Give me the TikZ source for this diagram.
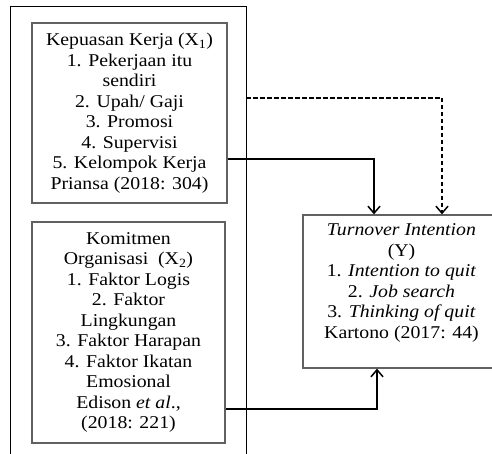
\documentclass[tikz,border=0pt]{standalone}
\usepackage{fontspec}
\setmainfont{Liberation Serif}[FakeStretch=1.1]
\usetikzlibrary{arrows.meta}
\tikzset{
  boxnode/.style={draw=black!62, line width=1.3pt, inner sep=0pt, align=center,
    font=\fontsize{18}{20.5}\selectfont},
  frameline/.style={draw=black, line width=1pt},
  conn/.style={draw=black, line width=1.5pt, -{Straight Barb[length=7pt,width=12pt,line width=1.5pt]}},
  dconn/.style={conn, dash pattern=on 4.5pt off 2.5pt}
}
\begin{document}
\begin{tikzpicture}[x=1pt,y=-1pt]
\clip (0,0) rectangle (492,454);
\fill[white] (0,0) rectangle (492,454);
% outer frame (open at bottom)
\coordinate (fl) at (10,460);
\coordinate (ftl) at (10,7);
\coordinate (ftr) at (246,7);
\coordinate (fr) at (246,460);
\draw[frameline] (fl) -- (ftl) -- (ftr) -- (fr);
\coordinate (o) at (246,98);
% boxes
\node[boxnode, minimum width=195pt, minimum height=180pt] (b1) at (129.5,113)
  {Kepuasan Kerja (X\textsubscript{1})\\ 1. Pekerjaan itu\\ sendiri\\ 2. Upah/ Gaji\\ 3. Promosi\\ 4. Supervisi\\ 5. Kelompok Kerja\\ Priansa (2018: 304)};
\node[boxnode, minimum width=193pt, minimum height=221pt] (b2) at (128.5,332.5)
  {Komitmen\\ Organisasi\ \ (X\textsubscript{2})\\ 1. Faktor Logis\\ 2. Faktor\\ Lingkungan\\ 3. Faktor Harapan\\ 4. Faktor Ikatan\\ Emosional\\ Edison \textit{et al}.,\\ (2018: 221)};
\node[boxnode, minimum width=197pt, minimum height=153pt] (y) at (401.5,291.5)
  {\textit{Turnover Intention}\\ (Y)\\ 1. \textit{Intention to quit}\\ 2. \textit{Job search}\\ 3. \textit{Thinking of quit}\\ Kartono (2017: 44)\\ ~};
% connectors
\draw[conn] ([yshift=-46pt]b1.east) -| ([xshift=-27.5pt]y.north);
\draw[dconn] (o) -| ([xshift=40.5pt]y.north);
\draw[conn] ([yshift=-76.5pt]b2.east) -| ([xshift=-24.5pt]y.south);
\end{tikzpicture}
\end{document}
